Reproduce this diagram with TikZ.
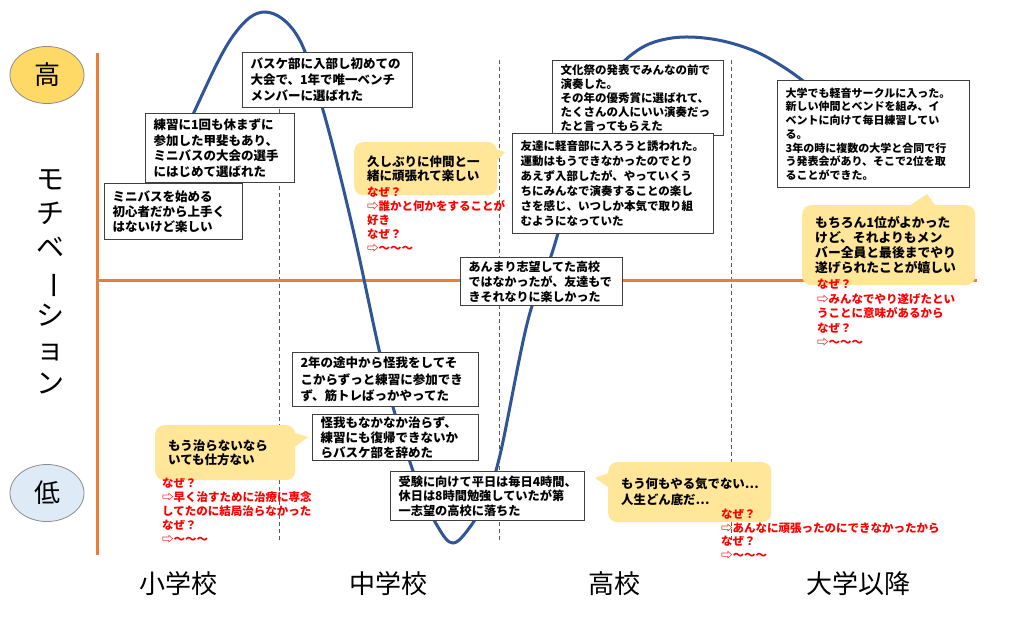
\documentclass[tikz,border=0pt]{standalone}
\usepackage{fontspec}
\usetikzlibrary{shapes.geometric}
\newfontfamily\jp{Noto Sans CJK JP}
\newcommand\jpfont[2]{\jp\bfseries\fontsize{#1}{#2}\selectfont}
\newcommand\jplight[1]{\jp\fontsize{#1}{#1}\selectfont}
\definecolor{axisorange}{RGB}{237,125,49}
\definecolor{curveblue}{RGB}{47,85,151}
\definecolor{calloutfill}{RGB}{255,230,153}
\definecolor{hifill}{RGB}{255,217,102}
\definecolor{lofill}{RGB}{222,235,247}
\definecolor{boxline}{RGB}{64,64,64}
\begin{document}
\begin{tikzpicture}[x=1pt,y=-1pt,
  box/.style={draw=boxline, line width=1.2pt, fill=white, anchor=north west, inner xsep=8pt, inner ysep=2pt, align=left},
  callout/.style={fill=calloutfill, rounded corners=9pt, anchor=north west, inner xsep=13pt, inner ysep=2pt, align=left},
  pointer/.style={fill=calloutfill},
  why/.style={text=red, anchor=north west, inner sep=0pt, align=left},
  axisline/.style={axisorange, line width=3pt},
  guide/.style={draw=black!65, line width=0.8pt, dash pattern=on 4pt off 3pt},
  stage/.style={font=\jplight{26}},
  level/.style={ellipse, draw=black!45, line width=0.8pt, minimum width=74pt, minimum height=57pt, font=\jplight{26}}
]
\useasboundingbox (0,0) rectangle (1024,623);
\fill[white] (0,0) rectangle (1024,623);

% guides
\draw[guide] (279,60) -- (279,540);
\draw[guide] (499,60) -- (499,540);
\draw[guide] (731,60) -- (731,540);

% axes
\coordinate (ytop) at (97,53);
\coordinate (ybot) at (97,555);
\coordinate (xl) at (97,280);
\coordinate (xr) at (977,280);
\draw[axisline] (ytop) -- (ybot);
\draw[axisline] (xl) -- (xr);

% motivation curve
\draw[curveblue, line width=3pt] plot[smooth, tension=0.6] coordinates {(150,215) (196,108) (233,36) (265,12) (298,37) (323,110) (352,225) (378,345) (393,407) (418,485) (438,527) (453,543) (470,527) (485,500) (500,455) (528,320) (553,250) (583,145) (610,80) (638,50) (672,38) (712,39) (752,50) (785,68) (815,90)};

% level ellipses and axis title
\node[level, fill=hifill] (hi) at (47,75) {高};
\node[level, fill=lofill] (lo) at (47,493) {低};
\node[align=center, font=\jp\fontsize{28}{34}\selectfont] (motiv) at (50,282) {モ\\チ\\ベ\\\rotatebox[origin=c]{-90}{ー}\\シ\\ョ\\ン};

% stage labels
\node[stage] (s1) at (178,584) {小学校};
\node[stage] (s2) at (388,584) {中学校};
\node[stage] (s3) at (614,584) {高校};
\node[stage] (s4) at (858,584) {大学以降};

% event boxes
\node[box, text width=122pt, minimum height=56pt, font={\jpfont{12.5}{15}}] (b1) at (104,183) {ミニバスを始める\\初心者だから上手く\\はないけど楽しい};
\node[box, text width=133pt, minimum height=69pt, font={\jpfont{12.5}{15.5}}] (b2) at (145,113) {練習に1回も休まずに\\参加した甲斐もあり、\\ミニバスの大会の選手\\にはじめて選ばれた};
\node[box, text width=154pt, minimum height=55pt, font={\jpfont{12.5}{16}}] (b3) at (242,52) {バスケ部に入部し初めての\\大会で、1年で唯一ベンチ\\メンバーに選ばれた};
\node[box, text width=155pt, minimum height=75pt, font={\jpfont{11.5}{13.8}}] (b4) at (552,60) {文化祭の発表でみんなの前で\\演奏した。\\その年の優秀賞に選ばれて、\\たくさんの人にいい演奏だっ\\たと言ってもらえた};
\node[box, text width=185pt, minimum height=100pt, font={\jpfont{11.5}{15}}] (b5) at (512,133) {友達に軽音部に入ろうと誘われた。\\運動はもうできなかったのでとり\\あえず入部したが、やっていくう\\ちにみんなで演奏することの楽し\\さを感じ、いつしか本気で取り組\\むようになっていた};
\node[box, text width=176pt, minimum height=107pt, font={\jpfont{11}{13.7}}] (b6) at (777,80) {大学でも軽音サークルに入った。\\新しい仲間とベンドを組み、イ\\ベントに向けて毎日練習してい\\る。\\3年の時に複数の大学と合同で行\\う発表会があり、そこで2位を取\\ることができた。};
\node[box, text width=146pt, minimum height=48pt, font={\jpfont{12}{15}}] (b7) at (460,257) {あんまり志望してた高校\\ではなかったが、友達もで\\きそれなりに楽しかった};
\node[box, text width=170pt, minimum height=54pt, font={\jpfont{12.5}{16.5}}] (b8) at (292,352) {2年の途中から怪我をしてそ\\こからずっと練習に参加でき\\ず、筋トレばっかやってた};
\node[box, text width=150pt, minimum height=46pt, font={\jpfont{12.5}{15}}] (b9) at (312,414) {怪我もなかなか治らず、\\練習にも復帰できないか\\らバスケ部を辞めた};
\node[box, text width=178pt, minimum height=49pt, font={\jpfont{12.2}{14.5}}] (b10) at (390,471) {受験に向けて平日は毎日4時間、\\休日は8時間勉強していたが第\\一志望の高校に落ちた};

% callouts
\fill[pointer] (494,149) -- (505,152) -- (494,164) -- cycle;
\node[callout, text width=117pt, minimum height=53pt, font={\jpfont{12.5}{14}}] (y1) at (354,142) {久しぶりに仲間と一\\緒に頑張れて楽しい};
\fill[pointer] (292,432) -- (308,437) -- (292,449) -- cycle;
\node[callout, text width=114pt, minimum height=55pt, font={\jpfont{12.5}{14.5}}] (y2) at (155,425) {もう治らないなら\\いても仕方ない};
\fill[pointer] (611,472) -- (595,478) -- (611,489) -- cycle;
\node[callout, text width=137pt, minimum height=60pt, font={\jpfont{12.4}{16}}] (y3) at (608,462) {もう何もやる気でない…\\人生どん底だ…};
\fill[pointer] (906,208) -- (927,194) -- (937,208) -- cycle;
\node[callout, text width=147pt, minimum height=80pt, font={\jpfont{12.8}{15}}] (y4) at (802,205) {もちろん1位がよかった\\けど、それよりもメン\\バー全員と最後までやり\\遂げられたことが嬉しい};

% why chains
\node[why, font={\jpfont{11.5}{14}}] (r1) at (367,187) {なぜ？\\⇨誰かと何かをすることが\\好き\\なぜ？\\⇨〜〜〜};
\node[why, font={\jpfont{11.5}{14}}] (r2) at (162,478) {なぜ？\\⇨早く治すために治療に専念\\してたのに結局治らなかった\\なぜ？\\⇨〜〜〜};
\node[why, font={\jpfont{11.5}{13.6}}] (r3) at (721,509) {なぜ？\\⇨あんなに頑張ったのにできなかったから\\なぜ？\\⇨〜〜〜};
\node[why, font={\jpfont{11.5}{14.5}}] (r4) at (817,279) {なぜ？\\⇨みんなでやり遂げたとい\\うことに意味があるから\\なぜ？\\⇨〜〜〜};
\end{tikzpicture}
\end{document}
